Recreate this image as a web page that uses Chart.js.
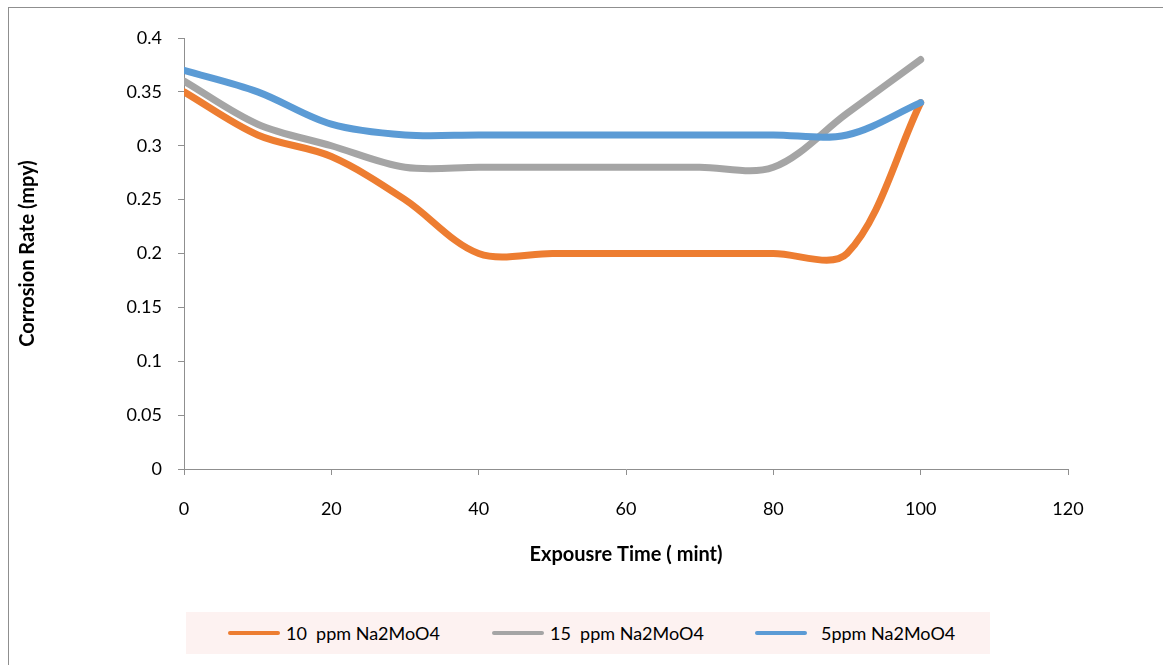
<!DOCTYPE html>
<html>
<head>
<meta charset="utf-8">
<title>Corrosion Rate vs Exposure Time</title>
<script src="https://cdn.jsdelivr.net/npm/chart.js@4"></script>
<style>
  html, body { margin: 0; padding: 0; background: #fff; overflow: hidden; }
  #wrap { position: relative; width: 1163px; height: 665px; }
  #frame {
    position: absolute; left: 8px; top: 7px; width: 1300px; height: 800px;
    border: 1px solid #8f8f8f; box-sizing: border-box;
  }
  #chart { position: absolute; left: 0; top: 0; }
  #legend {
    position: absolute; left: 186px; top: 612px; width: 804px; height: 42px;
    background: #fdf2f1;
    font-family: Lato, "Liberation Sans", sans-serif; font-size: 18px; color: #000;
  }
  .item { position: absolute; top: 0; height: 42px; }
  .item .swatch { position: absolute; top: 19px; width: 52px; height: 4px; border-radius: 2px; }
  .item .label { position: absolute; top: 10px; white-space: pre; line-height: 22px; }
</style>
</head>
<body>
<div id="wrap">
  <div id="frame"></div>
  <canvas id="chart" width="1163" height="665"></canvas>
  <div id="legend"></div>
</div>
<script>
// Exposure time (min) and corrosion rate (mpy) for each inhibitor dose
const exposureTime = [0, 10, 20, 30, 40, 50, 60, 70, 80, 90, 100];
const rate10ppm = [0.35, 0.31, 0.29, 0.25, 0.2, 0.2, 0.2, 0.2, 0.2, 0.2, 0.34];
const rate15ppm = [0.36, 0.32, 0.30, 0.28, 0.28, 0.28, 0.28, 0.28, 0.28, 0.33, 0.38];
const rate5ppm = [0.37, 0.35, 0.32, 0.31, 0.31, 0.31, 0.31, 0.31, 0.31, 0.31, 0.34];

const seriesLabels = ["10  ppm Na2MoO4", "15  ppm Na2MoO4", "5ppm Na2MoO4"];
const seriesColors = ["#ed7d31", "#a5a5a5", "#5b9bd5"];
const legendLeft = [42, 306, 569]; // item offsets inside the legend box
const legendTextLeft = [58, 58, 66];

const axisColor = "#8f8f8f";
const fontFamily = "Lato, 'Liberation Sans', sans-serif";

function toPoints(values) {
  return exposureTime.map((t, i) => ({ x: t, y: values[i] }));
}

const seriesValues = [rate10ppm, rate15ppm, rate5ppm];
// blue drawn on top, orange at the bottom
const drawOrder = [2, 1, 0];

const datasets = seriesValues.map((values, i) => ({
  label: seriesLabels[i],
  data: toPoints(values),
  borderColor: seriesColors[i],
  backgroundColor: seriesColors[i],
  borderWidth: 7,
  borderCapStyle: "round",
  borderJoinStyle: "round",
  pointRadius: 0,
  pointHoverRadius: 0,
  tension: 0.33,
  fill: false,
  order: drawOrder[i],
}));

const ctx = document.getElementById("chart").getContext("2d");
const chart = new Chart(ctx, {
  type: "line",
  data: { datasets: datasets },
  options: {
    responsive: false,
    animation: false,
    layout: { padding: { left: 0, top: 38, right: 95, bottom: 0 } },
    plugins: {
      legend: { display: false },
      tooltip: { enabled: false },
    },
    scales: {
      x: {
        type: "linear",
        min: 0,
        max: 120,
        ticks: {
          stepSize: 20,
          padding: 23,
          color: "#000",
          font: { family: fontFamily, size: 18 },
          maxRotation: 0,
        },
        grid: {
          drawOnChartArea: false,
          drawTicks: true,
          tickLength: 6,
          color: axisColor,
        },
        border: { display: true, color: axisColor },
        title: {
          display: true,
          text: "Expousre Time ( mint)",
          color: "#000",
          font: { family: fontFamily, size: 20, weight: "bold" },
          padding: { top: 0, bottom: 98 },
        },
        afterFit: (scale) => { scale.height = 196; },
      },
      y: {
        min: 0,
        max: 0.4,
        ticks: {
          stepSize: 0.05,
          padding: 16,
          color: "#000",
          font: { family: fontFamily, size: 18 },
          callback: (v) => String(parseFloat(v.toFixed(2))),
        },
        grid: {
          drawOnChartArea: false,
          drawTicks: true,
          tickLength: 6,
          color: axisColor,
        },
        border: { display: true, color: axisColor },
        title: {
          display: true,
          text: "Corrosion Rate (mpy)",
          color: "#000",
          font: { family: fontFamily, size: 20, weight: "bold" },
          padding: { top: 16, bottom: 0 },
        },
        afterFit: (scale) => { scale.width = 184; },
      },
    },
  },
});

// Legend in a tinted box below the plot
const legend = document.getElementById("legend");
seriesLabels.forEach((label, i) => {
  const item = document.createElement("div");
  item.className = "item";
  item.style.left = legendLeft[i] + "px";
  const swatch = document.createElement("div");
  swatch.className = "swatch";
  swatch.style.background = seriesColors[i];
  const text = document.createElement("div");
  text.className = "label";
  text.style.left = legendTextLeft[i] + "px";
  text.textContent = label;
  item.appendChild(swatch);
  item.appendChild(text);
  legend.appendChild(item);
});
</script>
</body>
</html>
